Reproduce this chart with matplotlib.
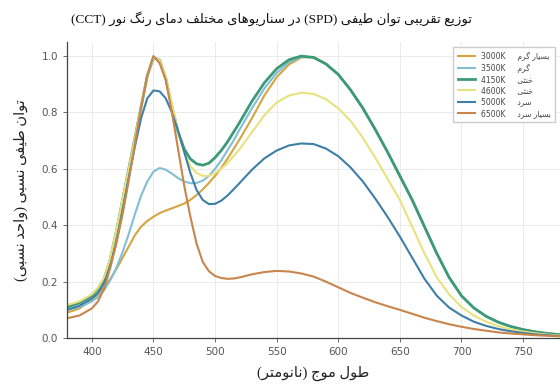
import re
import matplotlib
matplotlib.use("Agg")
import matplotlib.pyplot as plt

# wavelength grid (nm) and relative SPD
wavelength = [380, 390, 400, 405, 410, 415, 420, 425, 430, 435, 440, 445, 450, 455,
              460, 465, 470, 475, 480, 485, 490, 495, 500, 505, 510, 515, 520,
              530, 540, 550, 560, 570, 580, 590, 600, 610, 620, 630, 640, 650, 660,
              670, 680, 690, 700, 710, 720, 730, 740, 750, 760, 770, 780]

spd_3000 = [0.09, 0.105, 0.135, 0.155, 0.18, 0.21, 0.245, 0.285, 0.325, 0.365, 0.395, 0.415, 0.43, 0.443,
            0.452, 0.46, 0.468, 0.477, 0.49, 0.507, 0.527, 0.55, 0.575, 0.603, 0.635, 0.67, 0.705,
            0.78, 0.86, 0.925, 0.97, 0.995, 0.997, 0.972, 0.935, 0.88, 0.815, 0.74, 0.66, 0.575, 0.49,
            0.395, 0.3, 0.215, 0.15, 0.107, 0.077, 0.056, 0.041, 0.03, 0.022, 0.016, 0.012]
spd_3500 = [0.10, 0.11, 0.13, 0.145, 0.17, 0.205, 0.25, 0.305, 0.37, 0.44, 0.505, 0.555, 0.59, 0.603,
            0.597, 0.583, 0.567, 0.555, 0.549, 0.55, 0.558, 0.575, 0.6, 0.63, 0.665, 0.7, 0.74,
            0.815, 0.885, 0.94, 0.978, 0.997, 0.995, 0.972, 0.935, 0.88, 0.815, 0.74, 0.66, 0.575, 0.49,
            0.395, 0.3, 0.215, 0.15, 0.107, 0.077, 0.056, 0.041, 0.03, 0.022, 0.016, 0.012]
spd_4150 = [0.11, 0.125, 0.15, 0.175, 0.21, 0.28, 0.38, 0.49, 0.6, 0.71, 0.82, 0.93, 0.995, 0.985,
            0.92, 0.82, 0.73, 0.67, 0.635, 0.618, 0.613, 0.62, 0.64, 0.665, 0.695, 0.73, 0.765,
            0.84, 0.905, 0.955, 0.987, 1.0, 0.995, 0.972, 0.935, 0.88, 0.815, 0.74, 0.66, 0.575, 0.49,
            0.395, 0.3, 0.215, 0.15, 0.107, 0.077, 0.056, 0.041, 0.03, 0.022, 0.016, 0.012]
spd_4600 = [0.117, 0.13, 0.155, 0.178, 0.215, 0.285, 0.385, 0.495, 0.6, 0.71, 0.825, 0.93, 0.995, 0.985,
            0.925, 0.83, 0.73, 0.655, 0.61, 0.585, 0.575, 0.575, 0.585, 0.6, 0.62, 0.645, 0.67,
            0.73, 0.79, 0.835, 0.86, 0.87, 0.866, 0.847, 0.815, 0.77, 0.71, 0.64, 0.565, 0.49, 0.395,
            0.3, 0.215, 0.155, 0.11, 0.08, 0.058, 0.042, 0.031, 0.023, 0.017, 0.012, 0.009]
spd_5000 = [0.10, 0.115, 0.14, 0.16, 0.195, 0.255, 0.34, 0.45, 0.57, 0.68, 0.78, 0.85, 0.878, 0.875,
            0.85, 0.80, 0.735, 0.66, 0.585, 0.525, 0.49, 0.475, 0.476, 0.487, 0.505, 0.527, 0.55,
            0.597, 0.637, 0.665, 0.683, 0.69, 0.688, 0.672, 0.645, 0.605, 0.555, 0.495, 0.43, 0.36, 0.285,
            0.21, 0.15, 0.108, 0.08, 0.058, 0.043, 0.032, 0.024, 0.018, 0.013, 0.01, 0.007]
spd_6500 = [0.07, 0.08, 0.105, 0.13, 0.175, 0.25, 0.34, 0.44, 0.56, 0.69, 0.82, 0.93, 1.0, 0.975,
            0.915, 0.80, 0.67, 0.54, 0.43, 0.335, 0.27, 0.237, 0.22, 0.213, 0.21, 0.211, 0.215,
            0.226, 0.234, 0.238, 0.236, 0.229, 0.218, 0.2, 0.18, 0.16, 0.143, 0.127, 0.113, 0.1, 0.086,
            0.072, 0.06, 0.049, 0.04, 0.032, 0.026, 0.02, 0.016, 0.013, 0.01, 0.008, 0.006]

cct_labels = ["3000K", "3500K", "4150K", "4600K", "5000K", "6500K"]
cct_names = ["بسیار گرم", "گرم", "خنثی", "خنثی", "سرد", "بسیار سرد"]
colors = ["#d6a542", "#82bfd6", "#3c9a78", "#e8e27e", "#3d7fa6", "#c8854c"]

title_text = "توزیع تقریبی توان طیفی (SPD) در سناریوهای مختلف دمای رنگ نور (CCT)"
xlabel_text = "طول موج (نانومتر)"
ylabel_text = "توان طیفی نسبی (واحد نسبی)"

# matplotlib has no arabic shaping, so pick presentation forms by hand
# (isolated, final, initial, medial); two forms = joins on the right only
FORMS = {
    "ا": (0xFE8D, 0xFE8E), "د": (0xFEA9, 0xFEAA), "ر": (0xFEAD, 0xFEAE),
    "ز": (0xFEAF, 0xFEB0), "و": (0xFEED, 0xFEEE),
    "ب": (0xFE8F, 0xFE90, 0xFE91, 0xFE92), "ت": (0xFE95, 0xFE96, 0xFE97, 0xFE98),
    "ث": (0xFE99, 0xFE9A, 0xFE9B, 0xFE9C), "ج": (0xFE9D, 0xFE9E, 0xFE9F, 0xFEA0),
    "ح": (0xFEA1, 0xFEA2, 0xFEA3, 0xFEA4), "خ": (0xFEA5, 0xFEA6, 0xFEA7, 0xFEA8),
    "س": (0xFEB1, 0xFEB2, 0xFEB3, 0xFEB4), "ط": (0xFEC1, 0xFEC2, 0xFEC3, 0xFEC4),
    "ع": (0xFEC9, 0xFECA, 0xFECB, 0xFECC), "ف": (0xFED1, 0xFED2, 0xFED3, 0xFED4),
    "ق": (0xFED5, 0xFED6, 0xFED7, 0xFED8), "ل": (0xFEDD, 0xFEDE, 0xFEDF, 0xFEE0),
    "م": (0xFEE1, 0xFEE2, 0xFEE3, 0xFEE4), "ن": (0xFEE5, 0xFEE6, 0xFEE7, 0xFEE8),
    "ه": (0xFEE9, 0xFEEA, 0xFEEB, 0xFEEC), "ی": (0xFBFC, 0xFBFD, 0xFBFE, 0xFBFF),
    "ک": (0xFB8E, 0xFB8F, 0xFB90, 0xFB91), "گ": (0xFB92, 0xFB93, 0xFB94, 0xFB95),
}
MIRROR = str.maketrans("()", ")(")


def fa(text):
    shaped = []
    for i, ch in enumerate(text):
        if ch not in FORMS:
            shaped.append(ch)
            continue
        prev = text[i - 1] if i > 0 else ""
        nxt = text[i + 1] if i + 1 < len(text) else ""
        joins_prev = prev in FORMS and len(FORMS[prev]) == 4
        joins_next = len(FORMS[ch]) == 4 and nxt in FORMS
        f = FORMS[ch]
        if joins_prev and joins_next:
            code = f[3]
        elif joins_prev:
            code = f[1]
        elif joins_next:
            code = f[2]
        else:
            code = f[0]
        shaped.append(chr(code))
    shaped = "".join(shaped)
    # visual order: reverse the rtl runs, keep latin runs as they are
    runs = re.findall(r"[A-Za-z0-9]+|[^A-Za-z0-9]+", shaped)
    out = []
    for r in reversed(runs):
        if r[0].isascii() and r[0].isalnum():
            out.append(r)
        else:
            out.append(r[::-1].translate(MIRROR))
    return "".join(out)


plt.rcParams["font.family"] = ["DejaVu Sans"]
serif_fa = ["Liberation Serif", "DejaVu Sans"]

fig = plt.figure(figsize=(5.6, 3.85), dpi=100)
ax = fig.add_axes([0.12, 0.122, 0.88, 0.769])

series = [spd_3000, spd_3500, spd_4150, spd_4600, spd_5000, spd_6500]
for vals, lab, name, col in zip(series, cct_labels, cct_names, colors):
    lw = 2.0 if lab == "4150K" else 1.5
    ax.plot(wavelength, vals, color=col, lw=lw, label=lab + "     " + fa(name))

ax.set_xlim(380, 780)
ax.set_ylim(0, 1.05)
ax.set_xticks([400, 450, 500, 550, 600, 650, 700, 750])
ax.set_yticks([0.0, 0.2, 0.4, 0.6, 0.8, 1.0])
ax.yaxis.set_major_formatter(matplotlib.ticker.FormatStrFormatter("%.1f"))
ax.tick_params(labelsize=7.5, labelcolor="#555555", color="#555555", length=3, width=0.6)
ax.grid(True, color="#e8e8e8", lw=0.6)
ax.set_axisbelow(True)
for side in ["top", "right"]:
    ax.spines[side].set_visible(False)
for side in ["left", "bottom"]:
    ax.spines[side].set_color("#444444")
    ax.spines[side].set_linewidth(0.9)

ax.set_xlabel(fa(xlabel_text), fontsize=10.5, family=serif_fa, color="#222222", labelpad=6)
ax.set_ylabel(fa(ylabel_text), fontsize=10.5, family=serif_fa, color="#222222", labelpad=10)
fig.text(0.485, 0.953, fa(title_text), ha="center", va="center", fontsize=9.5, family=serif_fa, color="#111111")

leg = ax.legend(loc="upper right", bbox_to_anchor=(0.998, 0.995), fontsize=5.5,
                handlelength=2.2, labelspacing=0.3, borderpad=0.6, fancybox=False,
                framealpha=1, edgecolor="#cccccc")
for t in leg.get_texts():
    t.set_color("#444444")

fig.savefig("out.png", dpi=100)
